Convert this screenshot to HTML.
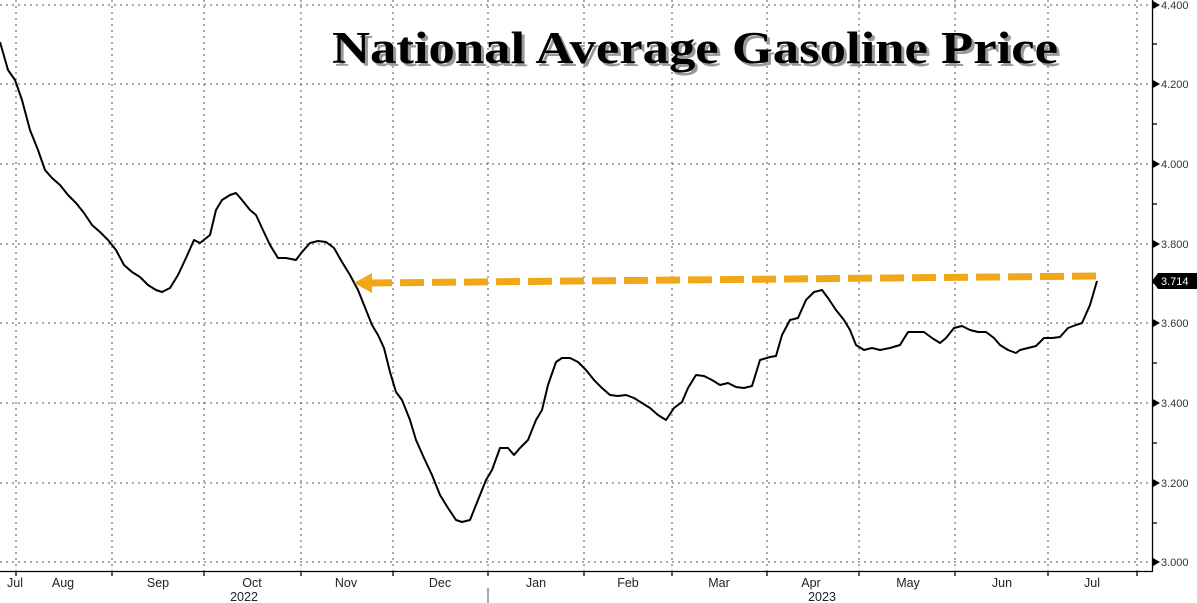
<!DOCTYPE html>
<html><head><meta charset="utf-8"><style>
html,body{margin:0;padding:0;background:#fff;}
svg{display:block;}
</style></head><body>
<svg width="1197" height="603" xmlns="http://www.w3.org/2000/svg" font-family="Liberation Sans, sans-serif">
<rect width="1197" height="603" fill="#fff"/>
<g stroke="#555" stroke-width="1" stroke-dasharray="2,4">
<line x1="0" y1="5" x2="1152" y2="5"/>
<line x1="0" y1="84" x2="1152" y2="84"/>
<line x1="0" y1="164" x2="1152" y2="164"/>
<line x1="0" y1="244" x2="1152" y2="244"/>
<line x1="0" y1="323" x2="1152" y2="323"/>
<line x1="0" y1="403" x2="1152" y2="403"/>
<line x1="0" y1="483" x2="1152" y2="483"/>
<line x1="0" y1="562" x2="1152" y2="562"/>
<line x1="16" y1="0" x2="16" y2="571"/>
<line x1="112" y1="0" x2="112" y2="571"/>
<line x1="204" y1="0" x2="204" y2="571"/>
<line x1="301" y1="0" x2="301" y2="571"/>
<line x1="393" y1="0" x2="393" y2="571"/>
<line x1="488" y1="0" x2="488" y2="571"/>
<line x1="584" y1="0" x2="584" y2="571"/>
<line x1="672" y1="0" x2="672" y2="571"/>
<line x1="767" y1="0" x2="767" y2="571"/>
<line x1="859" y1="0" x2="859" y2="571"/>
<line x1="955" y1="0" x2="955" y2="571"/>
<line x1="1048" y1="0" x2="1048" y2="571"/>
<line x1="1137" y1="0" x2="1137" y2="571"/>
</g>
<g stroke="#000" stroke-width="1.3">
<line x1="0" y1="571.5" x2="1152" y2="571.5"/>
<line x1="1152.5" y1="0" x2="1152.5" y2="572"/>
<line x1="16" y1="571" x2="16" y2="576"/><line x1="112" y1="571" x2="112" y2="576"/><line x1="204" y1="571" x2="204" y2="576"/><line x1="301" y1="571" x2="301" y2="576"/><line x1="393" y1="571" x2="393" y2="576"/><line x1="488" y1="571" x2="488" y2="576"/><line x1="584" y1="571" x2="584" y2="576"/><line x1="672" y1="571" x2="672" y2="576"/><line x1="767" y1="571" x2="767" y2="576"/><line x1="859" y1="571" x2="859" y2="576"/><line x1="955" y1="571" x2="955" y2="576"/><line x1="1048" y1="571" x2="1048" y2="576"/><line x1="1137" y1="571" x2="1137" y2="576"/>
<line x1="1152" y1="44" x2="1157" y2="44"/><line x1="1152" y1="124" x2="1157" y2="124"/><line x1="1152" y1="204" x2="1157" y2="204"/><line x1="1152" y1="283" x2="1157" y2="283"/><line x1="1152" y1="363" x2="1157" y2="363"/><line x1="1152" y1="443" x2="1157" y2="443"/><line x1="1152" y1="523" x2="1157" y2="523"/>
</g>
<line x1="488" y1="588" x2="488" y2="603" stroke="#555"/>
<g fill="#000">
<polygon points="1153,1 1160,5 1153,9"/><polygon points="1153,80 1160,84 1153,88"/><polygon points="1153,160 1160,164 1153,168"/><polygon points="1153,240 1160,244 1153,248"/><polygon points="1153,319 1160,323 1153,327"/><polygon points="1153,399 1160,403 1153,407"/><polygon points="1153,479 1160,483 1153,487"/><polygon points="1153,558 1160,562 1153,566"/>
</g>
<g font-size="11" fill="#333">
<text x="1161" y="9">4.400</text><text x="1161" y="88">4.200</text><text x="1161" y="168">4.000</text><text x="1161" y="248">3.800</text><text x="1161" y="327">3.600</text><text x="1161" y="407">3.400</text><text x="1161" y="487">3.200</text><text x="1161" y="566">3.000</text>
</g>
<polygon points="1152,281 1158,273 1197,273 1197,289 1158,289" fill="#000"/>
<text x="1161" y="285" font-size="11" fill="#fff">3.714</text>
<g font-size="12.5" fill="#222" text-anchor="middle">
<text x="15" y="587">Jul</text><text x="63" y="587">Aug</text><text x="158" y="587">Sep</text><text x="252" y="587">Oct</text><text x="346" y="587">Nov</text><text x="440" y="587">Dec</text><text x="536" y="587">Jan</text><text x="628" y="587">Feb</text><text x="719" y="587">Mar</text><text x="811" y="587">Apr</text><text x="908" y="587">May</text><text x="1002" y="587">Jun</text><text x="1092" y="587">Jul</text>
<text x="244" y="601">2022</text><text x="822" y="601">2023</text>
</g>
<polyline fill="none" stroke="#000" stroke-width="2" stroke-linejoin="round" points="0,42 8,70 15,80 22,100 30,130 38,150 45,170 52,178 60,185 68,195 76,203 84,213 92,225 100,232 108,240 116,250 124,265 132,272 140,277 148,285 156,290 162,292 170,288 178,275 186,258 194,240 200,243 210,235 216,210 222,200 230,195 236,193 242,200 250,210 256,215 262,228 270,245 278,258 286,258 296,260 302,252 310,243 318,241 326,242 334,248 342,262 350,275 358,290 366,310 372,325 378,335 384,348 390,372 396,392 402,400 410,420 416,440 424,458 432,475 440,495 448,508 456,520 462,522 470,520 478,500 486,480 492,470 500,448 508,448 514,455 520,448 528,440 536,420 542,410 548,385 556,362 562,358 570,358 578,362 586,370 594,380 602,388 610,395 618,396 626,395 634,398 642,403 650,408 658,415 666,420 674,408 682,402 688,388 696,375 704,376 712,380 720,385 728,383 736,387 744,388 752,386 760,360 770,357 776,356 782,335 790,320 798,318 806,300 814,292 822,290 828,298 836,310 844,320 850,330 856,345 864,350 872,348 880,350 890,348 900,345 908,332 916,332 924,332 932,338 940,343 946,338 954,328 962,326 970,330 978,332 986,332 994,338 1000,345 1008,350 1016,353 1020,350 1028,348 1036,346 1044,338 1052,338 1060,337 1068,328 1076,325 1082,323 1090,305 1097,281"/>
<line x1="368" y1="283" x2="1098" y2="276" stroke="#f0a818" stroke-width="7" stroke-dasharray="24,8"/>
<polygon points="354,283 372,273 372,293" fill="#f0a818"/>
<text x="695" y="63" font-family="Liberation Serif, serif" font-weight="bold" font-size="45" text-anchor="middle" fill="#999" textLength="726" lengthAdjust="spacingAndGlyphs" transform="translate(3,3)">National Average Gasoline Price</text>
<text x="695" y="63" font-family="Liberation Serif, serif" font-weight="bold" font-size="45" text-anchor="middle" fill="#000" textLength="726" lengthAdjust="spacingAndGlyphs">National Average Gasoline Price</text>
</svg>
</body></html>
